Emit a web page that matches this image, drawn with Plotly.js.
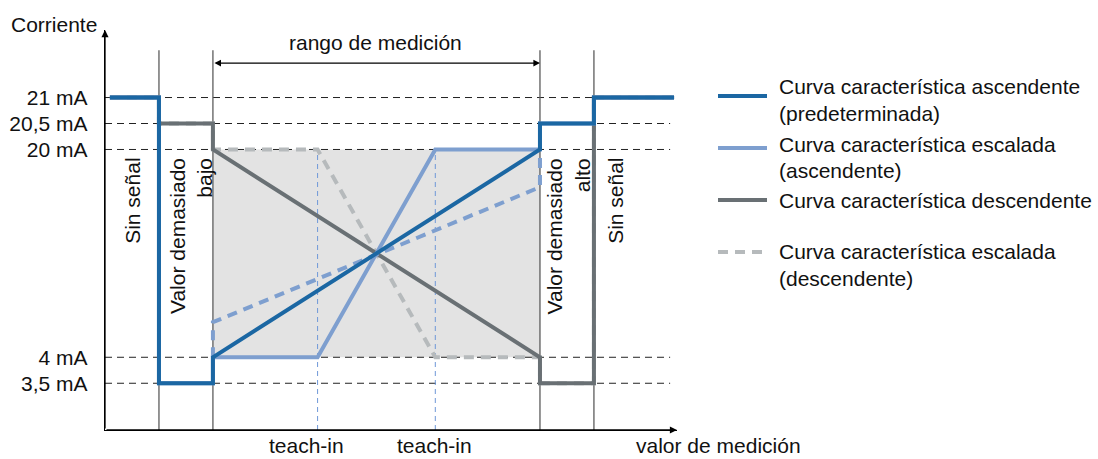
<!DOCTYPE html>
<html>
<head>
<meta charset="utf-8">
<script src="https://cdn.plot.ly/plotly-3.0.1.min.js"></script>
<style>html,body{margin:0;padding:0;background:#fff;}#chart{width:1098px;height:459px;}</style>
</head>
<body>
<div id="chart"></div>
<script>
// ---- data (measurement value in % of measuring range, current in mA) ----
const zoneBounds = [-16.5, 0, 100, 116.5];
const teachInX = [32, 68];
const levels = [21, 20.5, 20, 4, 3.5];
const levelLabels = ['21 mA', '20,5 mA', '20 mA', '4 mA', '3,5 mA'];

const ascX = [-31.5, -16.5, -16.5, 0, 0, 100, 100, 116.5, 116.5, 141];
const ascY = [21, 21, 3.5, 3.5, 4, 20, 20.5, 20.5, 21, 21];
const scAscX = [-31.5, -16.5, -16.5, 0, 0, 32, 68, 100, 100, 116.5, 116.5, 141];
const scAscY = [21, 21, 3.5, 3.5, 4, 4, 20, 20, 20.5, 20.5, 21, 21];
const descX = [-31.5, -16.5, -16.5, 0, 0, 100, 100, 116.5, 116.5, 141];
const descY = [21, 21, 20.5, 20.5, 20, 4, 3.5, 3.5, 21, 21];
const scDescX = [-31.5, -16.5, -16.5, 0, 0, 32, 68, 100, 100, 116.5, 116.5, 141];
const scDescY = [21, 21, 20.5, 20.5, 20, 20, 4, 4, 3.5, 3.5, 21, 21];
const altX = [0, 0, 100, 100];
const altY = [4, 6.7, 17.1, 20];

const seriesNames = [
  ['Curva característica ascendente', '(predeterminada)'],
  ['Curva característica escalada', '(ascendente)'],
  ['Curva característica descendente'],
  ['Curva característica escalada', '(descendente)']
];
const zoneLabels = ['Sin señal', 'Valor demasiado<br>bajo', 'Valor demasiado<br>alto', 'Sin señal'];

// ---- schematic current scale (out-of-range band stretched) ----
function u(mA) {
  if (mA > 20) return 20 + (mA - 20) * 4;
  if (mA < 4) return 4 - (4 - mA) * 4;
  return mA;
}

const W = 1098, H = 459;
const M = {l: 105, r: 421, t: 30, b: 29};
const PW = W - M.l - M.r, PH = H - M.t - M.b;
const px = v => (v - M.l) / PW;
const py = v => (H - M.b - v) / PH;

const C = {
  blue: '#1b67a3', lblue: '#7e9fcf', gray: '#697074', lgray: '#b6babc',
  fill: '#e3e3e3', zone: '#5c5c5c', teach: '#6f98d8', text: '#111111'
};
const FONT = '"Liberation Sans", Arial, Helvetica, sans-serif';
const FS = 21;

const traces = [
  {x: scDescX, y: scDescY.map(u), mode: 'lines', line: {color: C.lgray, width: 4, dash: '10px,7px'}, name: seriesNames[3].join(' ')},
  {x: descX, y: descY.map(u), mode: 'lines', line: {color: C.gray, width: 4}, name: seriesNames[2].join(' ')},
  {x: altX, y: altY.map(u), mode: 'lines', line: {color: C.lblue, width: 4, dash: '10px,7px'}, name: 'escalada (alt.)'},
  {x: scAscX, y: scAscY.map(u), mode: 'lines', line: {color: C.lblue, width: 4}, name: seriesNames[1].join(' ')},
  {x: ascX, y: ascY.map(u), mode: 'lines', line: {color: C.blue, width: 4}, name: seriesNames[0].join(' ')}
];

const yBot = -1.6, yTop = 29.2;
const xMin = -33.0, xMax = 141.9;
const zoneTop = 27.65;

const shapes = [];
shapes.push({type: 'rect', xref: 'x', yref: 'y', x0: zoneBounds[1], x1: zoneBounds[2], y0: u(4), y1: u(20),
  fillcolor: C.fill, line: {width: 0}, layer: 'below'});
levels.forEach(l => shapes.push({type: 'line', xref: 'x', yref: 'y', x0: xMin, x1: 139.8, y0: u(l), y1: u(l),
  line: {color: '#222', width: 1, dash: '7px,5px'}, layer: 'below'}));
zoneBounds.forEach(b => shapes.push({type: 'line', xref: 'x', yref: 'y', x0: b, x1: b, y0: yBot, y1: zoneTop,
  line: {color: C.zone, width: 1.3}, layer: 'below'}));
teachInX.forEach(t => shapes.push({type: 'line', xref: 'x', yref: 'y', x0: t, x1: t, y0: yBot, y1: u(20),
  line: {color: C.teach, width: 1, dash: '5px,4px'}, layer: 'below'}));

// legend samples
const legY = [96, 148, 200, 252];
const legStyle = [
  {color: C.blue, width: 4}, {color: C.lblue, width: 4}, {color: C.gray, width: 4}, {color: C.lgray, width: 4, dash: '10px,7px'}
];
legY.forEach((yy, i) => shapes.push({type: 'line', xref: 'paper', yref: 'paper', x0: px(718), x1: px(767),
  y0: py(yy), y1: py(yy), line: legStyle[i]}));

const ann = [];
const txt = (text, x, y, opts) => Object.assign({text, xref: 'paper', yref: 'paper', x: px(x), y: py(y),
  showarrow: false, xanchor: 'center', yanchor: 'middle', borderpad: 0,
  font: {family: FONT, size: FS, color: C.text}}, opts || {});

ann.push(txt('Corriente', 10, 24, {xanchor: 'left'}));
ann.push(txt('rango de medición', 375, 42));
ann.push(txt('teach-in', 306, 458, {yanchor: 'bottom'}));
ann.push(txt('teach-in', 435, 458, {yanchor: 'bottom'}));
ann.push(txt('valor de medición', 718, 458, {yanchor: 'bottom'}));

const legLines = [[87, 113], [144, 170], [200], [252, 278]];
seriesNames.forEach((lines, i) => lines.forEach((s, j) => ann.push(txt(s, 778, legLines[i][j], {xanchor: 'left'}))));

// zone labels (rotated)
const zoneLabelX = [-24.8, -6.7, 108.7, 122.9];
const yLabTop = (H - M.b - 157) / PH * (yTop - yBot) + yBot;
zoneLabels.forEach((s, i) => ann.push({text: s, xref: 'x', yref: 'y', x: zoneLabelX[i], y: yLabTop,
  textangle: -90, align: 'right', showarrow: false, xanchor: 'center', yanchor: 'top', borderpad: 0,
  font: {family: FONT, size: FS, color: C.text}}));

// axis arrows
ann.push({text: '', xref: 'paper', yref: 'paper', x: 0, y: 1, ax: 0, ay: PH, showarrow: true,
  arrowhead: 2, arrowsize: 1.1, arrowwidth: 1.3, arrowcolor: '#000', standoff: 0, startstandoff: 0});
ann.push({text: '', xref: 'paper', yref: 'paper', x: 1, y: 0, ax: -PW, ay: 0, showarrow: true,
  arrowhead: 2, arrowsize: 1.1, arrowwidth: 1.3, arrowcolor: '#000', standoff: 0, startstandoff: 0});
// measuring range arrow
const rangeY = 26.65;
ann.push({text: '', xref: 'x', yref: 'y', x: zoneBounds[2], y: rangeY, axref: 'x', ayref: 'y', ax: zoneBounds[1], ay: rangeY,
  showarrow: true, arrowhead: 2, startarrowhead: 2, arrowside: 'end+start', arrowsize: 1.1, startarrowsize: 1.1,
  arrowwidth: 1.2, arrowcolor: '#000', standoff: 0, startstandoff: 0});

const layout = {
  width: W, height: H, margin: M, showlegend: false,
  paper_bgcolor: '#fff', plot_bgcolor: '#fff',
  font: {family: FONT, size: FS, color: C.text},
  xaxis: {range: [xMin, xMax], showgrid: false, zeroline: false, showticklabels: false, ticks: '',
    showline: true, linecolor: '#000', linewidth: 1.3, fixedrange: true},
  yaxis: {range: [yBot, yTop], showgrid: false, zeroline: false, tickmode: 'array',
    tickvals: levels.map(u), ticktext: levelLabels, ticks: '', ticklabelstandoff: 12,
    tickfont: {family: FONT, size: FS, color: C.text},
    showline: true, linecolor: '#000', linewidth: 1.3, fixedrange: true},
  shapes: shapes, annotations: ann, hovermode: false
};

Plotly.newPlot('chart', traces, layout, {displayModeBar: false, staticPlot: true});
</script>
</body>
</html>
